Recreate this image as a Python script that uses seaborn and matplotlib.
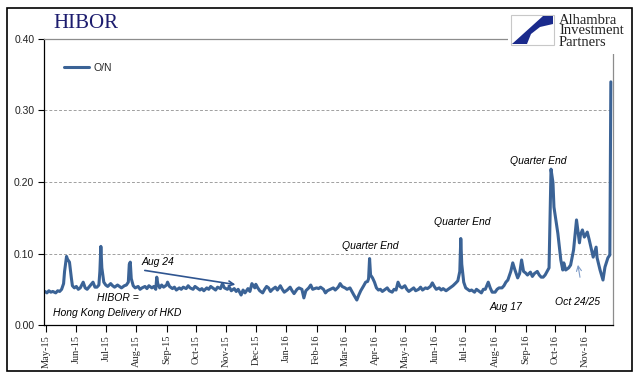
import pandas as pd
import seaborn as sns
import matplotlib.pyplot as plt
import matplotlib.dates as mdates
from matplotlib.patches import Rectangle, Polygon

sns.set_style("white")
plt.rcParams['font.family'] = ['Liberation Sans', 'DejaVu Sans']

# HIBOR overnight rate
dates = [
    '2015-04-30', '2015-05-02', '2015-05-04', '2015-05-06', '2015-05-08', '2015-05-11', '2015-05-13',
    '2015-05-15', '2015-05-17', '2015-05-19', '2015-05-20', '2015-05-22', '2015-05-23', '2015-05-25',
    '2015-05-27', '2015-05-28', '2015-05-30', '2015-06-01', '2015-06-03', '2015-06-05', '2015-06-08',
    '2015-06-10', '2015-06-12', '2015-06-15', '2015-06-18', '2015-06-20', '2015-06-22', '2015-06-24',
    '2015-06-25', '2015-06-26', '2015-06-27', '2015-06-29', '2015-07-01', '2015-07-03', '2015-07-06',
    '2015-07-08', '2015-07-10', '2015-07-13', '2015-07-15', '2015-07-17', '2015-07-20', '2015-07-22',
    '2015-07-24', '2015-07-25', '2015-07-26', '2015-07-27', '2015-07-29', '2015-07-31', '2015-08-03',
    '2015-08-05', '2015-08-07', '2015-08-10', '2015-08-12', '2015-08-14', '2015-08-17', '2015-08-19',
    '2015-08-21', '2015-08-22', '2015-08-23', '2015-08-25', '2015-08-27', '2015-08-29', '2015-09-01',
    '2015-09-02', '2015-09-04', '2015-09-07', '2015-09-09', '2015-09-11', '2015-09-14', '2015-09-16',
    '2015-09-18', '2015-09-21', '2015-09-23', '2015-09-25', '2015-09-28', '2015-09-30', '2015-10-02',
    '2015-10-05', '2015-10-07', '2015-10-09', '2015-10-12', '2015-10-14', '2015-10-16', '2015-10-19',
    '2015-10-21', '2015-10-23', '2015-10-26', '2015-10-28', '2015-10-30', '2015-11-02', '2015-11-04',
    '2015-11-06', '2015-11-09', '2015-11-11', '2015-11-13', '2015-11-16', '2015-11-18', '2015-11-20',
    '2015-11-23', '2015-11-25', '2015-11-27', '2015-11-30', '2015-12-01', '2015-12-03', '2015-12-05',
    '2015-12-08', '2015-12-10', '2015-12-12', '2015-12-14', '2015-12-16', '2015-12-18', '2015-12-21',
    '2015-12-23', '2015-12-26', '2015-12-28', '2015-12-30', '2016-01-02', '2016-01-05', '2016-01-07',
    '2016-01-09', '2016-01-12', '2016-01-14', '2016-01-17', '2016-01-19', '2016-01-21', '2016-01-24',
    '2016-01-26', '2016-01-28', '2016-02-01', '2016-02-03', '2016-02-05', '2016-02-08', '2016-02-10',
    '2016-02-12', '2016-02-15', '2016-02-18', '2016-02-20', '2016-02-23', '2016-02-25', '2016-02-27',
    '2016-03-01', '2016-03-03', '2016-03-06', '2016-03-08', '2016-03-10', '2016-03-13', '2016-03-15',
    '2016-03-17', '2016-03-20', '2016-03-22', '2016-03-24', '2016-03-25', '2016-03-26', '2016-03-27',
    '2016-03-29', '2016-03-31', '2016-04-02', '2016-04-04', '2016-04-06', '2016-04-08', '2016-04-11',
    '2016-04-13', '2016-04-15', '2016-04-18', '2016-04-20', '2016-04-22', '2016-04-24', '2016-04-26',
    '2016-04-28', '2016-05-01', '2016-05-03', '2016-05-05', '2016-05-08', '2016-05-10', '2016-05-12',
    '2016-05-15', '2016-05-17', '2016-05-19', '2016-05-22', '2016-05-24', '2016-05-27', '2016-05-29',
    '2016-05-31', '2016-06-02', '2016-06-05', '2016-06-07', '2016-06-09', '2016-06-12', '2016-06-14',
    '2016-06-16', '2016-06-19', '2016-06-22', '2016-06-24', '2016-06-26', '2016-06-27', '2016-06-28',
    '2016-06-30', '2016-07-02', '2016-07-04', '2016-07-06', '2016-07-08', '2016-07-11', '2016-07-13',
    '2016-07-15', '2016-07-18', '2016-07-20', '2016-07-22', '2016-07-25', '2016-07-27', '2016-07-29',
    '2016-08-01', '2016-08-03', '2016-08-05', '2016-08-08', '2016-08-10', '2016-08-12', '2016-08-14',
    '2016-08-17', '2016-08-19', '2016-08-21', '2016-08-24', '2016-08-26', '2016-08-28', '2016-08-30',
    '2016-09-01', '2016-09-03', '2016-09-06', '2016-09-08', '2016-09-10', '2016-09-13', '2016-09-15',
    '2016-09-17', '2016-09-19', '2016-09-21', '2016-09-23', '2016-09-25', '2016-09-27', '2016-09-29',
    '2016-09-30', '2016-10-04', '2016-10-07', '2016-10-09', '2016-10-10', '2016-10-12', '2016-10-15',
    '2016-10-17', '2016-10-20', '2016-10-23', '2016-10-26', '2016-10-27', '2016-10-29', '2016-10-31',
    '2016-11-03', '2016-11-05', '2016-11-09', '2016-11-12', '2016-11-13', '2016-11-16', '2016-11-19',
    '2016-11-21', '2016-11-24', '2016-11-26', '2016-11-27',
]
rates = [
    0.047, 0.045, 0.048, 0.046, 0.047, 0.045, 0.048,
    0.047, 0.050, 0.058, 0.075, 0.096, 0.092, 0.088,
    0.065, 0.055, 0.052, 0.054, 0.050, 0.052, 0.060,
    0.052, 0.050, 0.055, 0.060, 0.053, 0.053, 0.056,
    0.075, 0.110, 0.080, 0.060, 0.056, 0.054, 0.058,
    0.055, 0.053, 0.056, 0.054, 0.052, 0.055, 0.056,
    0.060, 0.085, 0.088, 0.065, 0.055, 0.052, 0.054,
    0.050, 0.052, 0.054, 0.051, 0.055, 0.052, 0.054,
    0.050, 0.067, 0.058, 0.052, 0.056, 0.053, 0.056,
    0.060, 0.054, 0.051, 0.053, 0.049, 0.052, 0.050,
    0.053, 0.051, 0.055, 0.052, 0.050, 0.054, 0.052,
    0.049, 0.051, 0.048, 0.052, 0.050, 0.054, 0.051,
    0.049, 0.053, 0.051, 0.058, 0.052, 0.050, 0.053,
    0.048, 0.051, 0.047, 0.050, 0.042, 0.049, 0.045,
    0.051, 0.047, 0.058, 0.052, 0.057, 0.052, 0.048,
    0.045, 0.050, 0.054, 0.052, 0.047, 0.050, 0.053,
    0.049, 0.055, 0.050, 0.046, 0.049, 0.053, 0.048,
    0.044, 0.050, 0.052, 0.050, 0.038, 0.048, 0.052,
    0.056, 0.050, 0.052, 0.051, 0.053, 0.050, 0.045,
    0.048, 0.050, 0.052, 0.049, 0.053, 0.058, 0.054,
    0.052, 0.050, 0.052, 0.047, 0.042, 0.035, 0.042,
    0.048, 0.055, 0.060, 0.061, 0.065, 0.093, 0.070,
    0.066, 0.060, 0.052, 0.049, 0.050, 0.047, 0.050,
    0.052, 0.048, 0.046, 0.050, 0.049, 0.060, 0.054,
    0.052, 0.055, 0.050, 0.047, 0.050, 0.052, 0.048,
    0.050, 0.053, 0.049, 0.052, 0.051, 0.054, 0.059,
    0.054, 0.050, 0.052, 0.049, 0.051, 0.048, 0.050,
    0.052, 0.055, 0.059, 0.062, 0.075, 0.121, 0.085,
    0.060, 0.052, 0.050, 0.048, 0.049, 0.046, 0.050,
    0.048, 0.045, 0.050, 0.050, 0.060, 0.052, 0.046,
    0.046, 0.050, 0.052, 0.052, 0.055, 0.060, 0.063,
    0.075, 0.087, 0.078, 0.066, 0.072, 0.091, 0.075,
    0.073, 0.070, 0.074, 0.068, 0.072, 0.075, 0.070,
    0.067, 0.067, 0.070, 0.075, 0.080, 0.218, 0.199,
    0.165, 0.128, 0.091, 0.077, 0.087, 0.077, 0.080,
    0.084, 0.105, 0.147, 0.115, 0.126, 0.133, 0.123,
    0.130, 0.119, 0.095, 0.109, 0.094, 0.077, 0.063,
    0.081, 0.094, 0.098, 0.340,
]
series_name = 'O/N'
y_ticks = [0.0, 0.1, 0.2, 0.3, 0.4]

df = pd.DataFrame({'date': pd.to_datetime(dates), 'rate': rates})

line_color = '#3b6396'
navy = '#1c1c6e'

fig = plt.figure(figsize=(6.41, 3.82), dpi=100)
ax = fig.add_axes([0.0686, 0.149, 0.8874, 0.749])

sns.lineplot(data=df, x='date', y='rate', ax=ax, color=line_color, lw=2.2, label=series_name)

ax.set_xlim(pd.Timestamp('2015-04-29'), pd.Timestamp('2016-11-29'))
ax.set_ylim(0, 0.40)
ax.set_yticks(y_ticks)
ax.yaxis.set_major_formatter(plt.FuncFormatter(lambda v, p: f'{v:.2f}'))
ax.xaxis.set_major_locator(mdates.MonthLocator())
ax.xaxis.set_major_formatter(mdates.DateFormatter('%b-%y'))
ax.set_xlabel('')
ax.set_ylabel('')

for lab in ax.get_xticklabels():
    lab.set_rotation(90)
    lab.set_family(['Liberation Serif'])
    lab.set_fontsize(7.5)
for lab in ax.get_yticklabels():
    lab.set_fontsize(7.5)
    lab.set_color('#222222')

ax.tick_params(axis='x', bottom=True, length=5, width=0.8, color='black', pad=2)
ax.tick_params(axis='y', left=True, length=4, width=0.8, color='black', pad=3)

for v in y_ticks[1:4]:
    ax.axhline(v, color='#a0a0a0', lw=0.7, ls=(0, (3, 2)), zorder=0)
ax.spines['top'].set_color('#8c8c8c')
ax.spines['right'].set_color('#8c8c8c')
ax.spines['left'].set_color('black')
ax.spines['bottom'].set_color('black')
for s in ax.spines.values():
    s.set_linewidth(0.9)

ax.legend(loc='center left', bbox_to_anchor=(0.035, 0.899), frameon=False, fontsize=7.5,
          handlelength=2.45, handletextpad=0.35, borderpad=0, borderaxespad=0)

# annotations
note = dict(fontsize=7.5, style='italic', ha='center', va='center', color='black')
ax.text(pd.Timestamp('2016-03-27'), 0.110, 'Quarter End', **note)
ax.text(pd.Timestamp('2016-06-29'), 0.144, 'Quarter End', **note)
ax.text(pd.Timestamp('2016-09-14'), 0.229, 'Quarter End', **note)
ax.text(pd.Timestamp('2016-08-12'), 0.025, 'Aug 17', **note)
ax.text(pd.Timestamp('2016-10-24'), 0.032, 'Oct 24/25', **note)
ax.text(pd.Timestamp('2015-08-23'), 0.088, 'Aug 24', **note)
ax.text(pd.Timestamp('2015-07-13'), 0.038, 'HIBOR =', **note)
ax.text(pd.Timestamp('2015-07-13'), 0.017, 'Hong Kong Delivery of HKD', **note)

ax.annotate('', xy=(pd.Timestamp('2015-11-13'), 0.056), xytext=(pd.Timestamp('2015-08-07'), 0.077),
            arrowprops=dict(arrowstyle='->', color='#2f5590', lw=1.2, mutation_scale=9))
ax.annotate('', xy=(pd.Timestamp('2016-10-24'), 0.088), xytext=(pd.Timestamp('2016-10-27'), 0.063),
            arrowprops=dict(arrowstyle='->', color='#7f9cc8', lw=0.8, mutation_scale=9))

# title
fig.text(53 / 641, 1 - 24 / 382, 'HIBOR', family=['Liberation Serif'], fontsize=15,
         color=navy, ha='left', va='center')

# logo
fig.patches.append(Rectangle((508 / 641, 1 - 54 / 382), 122 / 641, 44 / 382,
                             transform=fig.transFigure, facecolor='white', edgecolor='none', zorder=5))
fig.patches.append(Rectangle((511 / 641, 1 - 45 / 382), 43 / 641, 30 / 382,
                             transform=fig.transFigure, facecolor='white', edgecolor='#c8c8c8',
                             lw=0.8, zorder=6))
swoosh = [(553, 16), (543, 16), (512, 44), (527, 44), (531, 34), (540, 27), (553, 24)]
fig.patches.append(Polygon([(x / 641, 1 - y / 382) for x, y in swoosh], closed=True,
                           transform=fig.transFigure, facecolor='#1a2a8c', edgecolor='none', zorder=7))
fig.text(559 / 641, 1 - 31 / 382, 'Alhambra\nInvestment\nPartners', family=['Liberation Serif'],
         fontsize=10.5, color='#222222', ha='left', va='center', linespacing=0.8, zorder=7)

# outer frame
fig.patches.append(Rectangle((7 / 641, 1 - 371 / 382), 625 / 641, 363 / 382,
                             transform=fig.transFigure, facecolor='none', edgecolor='black',
                             lw=1.2, zorder=8))

fig.savefig('out.png', dpi=100)
